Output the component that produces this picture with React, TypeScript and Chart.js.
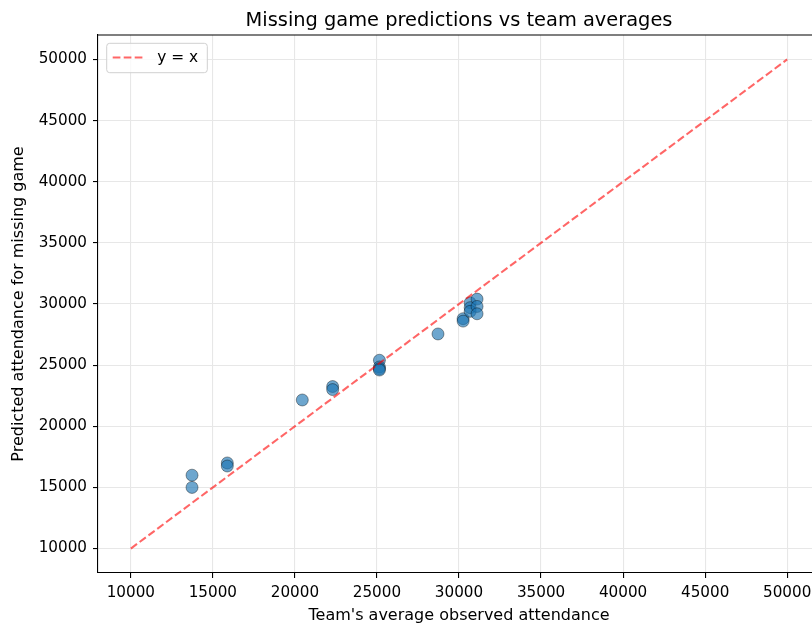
import React, { useEffect, useRef } from "react";
import { Chart, registerables } from "chart.js";

Chart.register(...registerables);

const titleText = "Missing game predictions vs team averages";
const xLabel = "Team's average observed attendance";
const yLabel = "Predicted attendance for missing game";
const legendLabel = "y = x";

const teamAvg = [13730, 13730, 15880, 15880, 20450, 22300, 22300, 25150, 25150, 25150, 25150, 28720, 30250, 30250, 30680, 30680, 30680, 31100, 31100, 31100];
const predicted = [16000, 15000, 17000, 16750, 22150, 23250, 23000, 25400, 24850, 24700, 24600, 27550, 28800, 28600, 30100, 29700, 29400, 30400, 29800, 29200];

const refLine = [10000, 50000];
const xTicks = [10000, 15000, 20000, 25000, 30000, 35000, 40000, 45000, 50000];
const yTicks = [10000, 15000, 20000, 25000, 30000, 35000, 40000, 45000, 50000];
const axisMin = 8000;
const axisMax = 52000;

const FONT = "'DejaVu Sans', sans-serif";
const CANVAS_W = 840;
const CANVAS_H = 626;
const TICK_SIZE = 15.2;
const LABEL_SIZE = 16;
const TITLE_SIZE = 19.4;
const LEGEND_SIZE = 15.4;

const extrasPlugin = {
  id: "extras",
  afterDraw(chart: any) {
    const { ctx, chartArea } = chart;
    const { left, right, top } = chartArea;
    ctx.save();
    // top & right spines
    ctx.strokeStyle = "#000";
    ctx.lineWidth = 1.1;
    ctx.beginPath();
    ctx.moveTo(left, top);
    ctx.lineTo(right, top);
    ctx.stroke();
    ctx.beginPath();
    ctx.moveTo(right, top);
    ctx.lineTo(right, chartArea.bottom);
    ctx.stroke();
    // title
    ctx.fillStyle = "#000";
    ctx.font = `${TITLE_SIZE}px ${FONT}`;
    ctx.textAlign = "center";
    ctx.textBaseline = "alphabetic";
    ctx.fillText(titleText, (left + right) / 2, 25.5);
    // legend
    const bx = left + 8.7;
    const by = top + 8.3;
    const bw = 100.6;
    const bh = 29.4;
    const r = 3;
    ctx.beginPath();
    ctx.moveTo(bx + r, by);
    ctx.lineTo(bx + bw - r, by);
    ctx.quadraticCurveTo(bx + bw, by, bx + bw, by + r);
    ctx.lineTo(bx + bw, by + bh - r);
    ctx.quadraticCurveTo(bx + bw, by + bh, bx + bw - r, by + bh);
    ctx.lineTo(bx + r, by + bh);
    ctx.quadraticCurveTo(bx, by + bh, bx, by + bh - r);
    ctx.lineTo(bx, by + r);
    ctx.quadraticCurveTo(bx, by, bx + r, by);
    ctx.closePath();
    ctx.fillStyle = "rgba(255,255,255,0.8)";
    ctx.fill();
    ctx.strokeStyle = "#d0d0d0";
    ctx.lineWidth = 1;
    ctx.stroke();
    const ly = by + bh / 2 - 0.5;
    ctx.strokeStyle = "rgba(255,0,0,0.6)";
    ctx.lineWidth = 2.08;
    ctx.setLineDash([7.7, 3.3]);
    ctx.beginPath();
    ctx.moveTo(bx + 6, ly);
    ctx.lineTo(bx + 37.5, ly);
    ctx.stroke();
    ctx.setLineDash([]);
    ctx.fillStyle = "#000";
    ctx.font = `${LEGEND_SIZE}px ${FONT}`;
    ctx.textAlign = "left";
    ctx.textBaseline = "middle";
    ctx.fillText(legendLabel, bx + 50.5, ly + 0.5);
    ctx.restore();
  },
};

export default function App() {
  const ref = useRef<HTMLCanvasElement | null>(null);

  useEffect(() => {
    if (!ref.current) return;
    const scatterData = teamAvg.map((x, i) => ({ x, y: predicted[i] }));
    const lineData = refLine.map((v) => ({ x: v, y: v }));
    const chart = new Chart(ref.current, {
      type: "scatter",
      data: {
        datasets: [
          {
            type: "line",
            label: legendLabel,
            data: lineData,
            borderColor: "rgba(255,0,0,0.6)",
            borderWidth: 2.08,
            borderDash: [7.7, 3.3],
            pointRadius: 0,
            fill: false,
            order: 0,
          } as any,
          {
            type: "scatter",
            label: "games",
            data: scatterData,
            backgroundColor: "rgba(31,119,180,0.65)",
            borderColor: "rgba(0,0,0,0.55)",
            borderWidth: 0.7,
            pointRadius: 6,
            order: 1,
          },
        ],
      },
      options: {
        responsive: false,
        animation: false,
        devicePixelRatio: 1,
        layout: { padding: { top: 35, right: CANVAS_W - 820, left: 0, bottom: 0 } },
        plugins: {
          legend: { display: false },
          title: { display: false },
          tooltip: { enabled: false },
        },
        scales: {
          x: {
            type: "linear",
            min: axisMin,
            max: axisMax,
            afterBuildTicks: (scale: any) => {
              scale.ticks = xTicks.map((v) => ({ value: v }));
            },
            afterFit: (scale: any) => {
              scale.height = CANVAS_H - 573;
            },
            grid: {
              color: "#e7e7e7",
              lineWidth: 1.1,
              tickColor: "#000",
              tickLength: 5,
              drawTicks: true,
            },
            border: { display: true, color: "#000", width: 1.1 },
            ticks: {
              color: "#000",
              font: { family: FONT, size: TICK_SIZE },
              padding: 6,
              maxRotation: 0,
              callback: (v: any) => String(v),
            },
            title: {
              display: true,
              text: xLabel,
              color: "#000",
              font: { family: FONT, size: LABEL_SIZE },
              padding: { top: 1, bottom: 1 },
            },
          },
          y: {
            type: "linear",
            min: axisMin,
            max: axisMax,
            afterBuildTicks: (scale: any) => {
              scale.ticks = yTicks.map((v) => ({ value: v }));
            },
            afterFit: (scale: any) => {
              scale.width = 98;
            },
            grid: {
              color: "#e7e7e7",
              lineWidth: 1.1,
              tickColor: "#000",
              tickLength: 5,
              drawTicks: true,
            },
            border: { display: true, color: "#000", width: 1.1 },
            ticks: {
              color: "#000",
              font: { family: FONT, size: TICK_SIZE },
              padding: 6,
              callback: (v: any) => String(v),
            },
            title: {
              display: true,
              text: yLabel,
              color: "#000",
              font: { family: FONT, size: LABEL_SIZE },
              padding: { top: 9, bottom: 9 },
            },
          },
        },
      },
      plugins: [extrasPlugin],
    });
    return () => chart.destroy();
  }, []);

  return (
    <div
      style={{
        position: "fixed",
        left: 0,
        top: 0,
        width: 812,
        height: 626,
        overflow: "hidden",
        background: "#fff",
      }}
    >
      <canvas ref={ref} width={CANVAS_W} height={CANVAS_H} style={{ display: "block" }} />
    </div>
  );
}
